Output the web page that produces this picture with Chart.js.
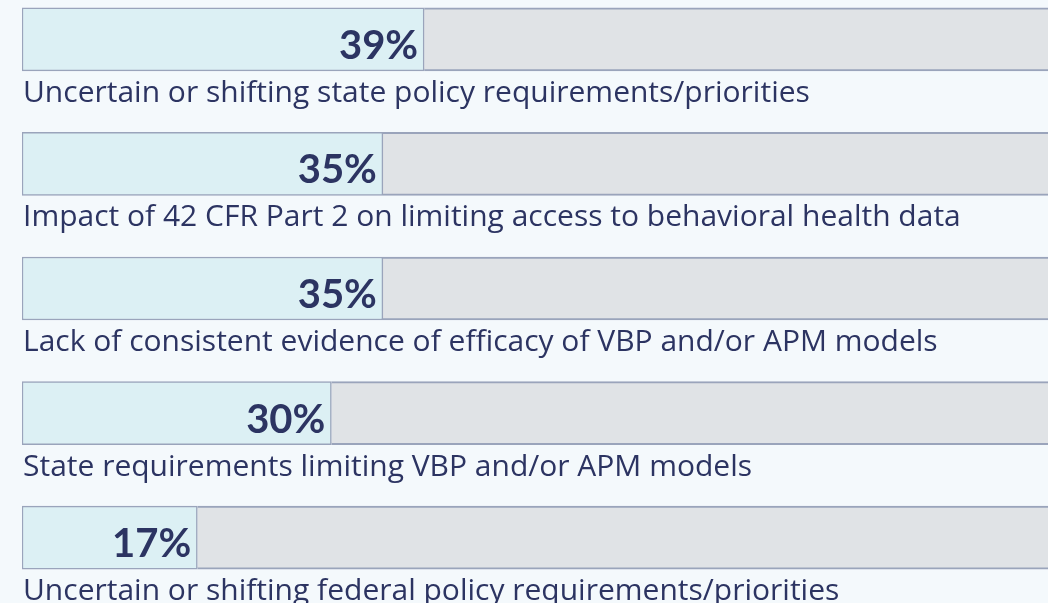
<!DOCTYPE html>
<html>
<head>
<meta charset="utf-8">
<script src="https://cdn.jsdelivr.net/npm/chart.js@4/dist/chart.umd.min.js"></script>
<style>
  html, body { margin: 0; padding: 0; width: 1048px; height: 603px; overflow: hidden; background: #f4f9fc; }
  #wrap { position: absolute; left: 0; top: -30px; width: 1048px; height: 640px; }
</style>
</head>
<body>
<div id="wrap"><canvas id="chart"></canvas></div>
<script>
// ========== DATA ==========
const categories = [
  'Uncertain or shifting state policy requirements/priorities',
  'Impact of 42 CFR Part 2 on limiting access to behavioral health data',
  'Lack of consistent evidence of efficacy of VBP and/or APM models',
  'State requirements limiting VBP and/or APM models',
  'Uncertain or shifting federal policy requirements/priorities'
];
const values = [39, 35, 35, 30, 17];
const rest = values.map(v => 100 - v);

const NAVY = '#2c3462';
const EDGE = '#9aa4bb';

// ========== LABELS PLUGIN ==========
const barText = {
  id: 'barText',
  afterDatasetsDraw(chart) {
    const ctx = chart.ctx;
    const meta = chart.getDatasetMeta(0);
    ctx.save();
    ctx.fillStyle = NAVY;
    meta.data.forEach((bar, i) => {
      const bottom = bar.y + bar.height / 2;
      // value inside the fill
      ctx.font = 'bold 40px Lato';
      ctx.textAlign = 'right';
      ctx.textBaseline = 'alphabetic';
      ctx.fillText(values[i] + '%', bar.x - 6, bar.y + 19.5);
      // category under the bar
      ctx.font = '30px "Open Sans"';
      ctx.textAlign = 'left';
      ctx.fillText(categories[i], chart.chartArea.left + 1, bottom + 31);
    });
    ctx.restore();
  }
};

new Chart(document.getElementById('chart'), {
  type: 'bar',
  data: {
    labels: categories,
    datasets: [
      {
        data: values,
        backgroundColor: '#dcf0f4',
        borderColor: EDGE,
        borderWidth: 1.5,
        borderSkipped: false,
        barThickness: 63
      },
      {
        data: rest,
        backgroundColor: '#e0e3e6',
        borderColor: EDGE,
        borderWidth: { top: 2, bottom: 2, left: 0, right: 0 },
        borderSkipped: 'start',
        barThickness: 63
      }
    ]
  },
  options: {
    indexAxis: 'y',
    responsive: true,
    maintainAspectRatio: false,
    animation: false,
    layout: { padding: { top: 7, bottom: 10, left: 22, right: 0 } },
    plugins: { legend: { display: false }, tooltip: { enabled: false } },
    scales: {
      x: { display: false, stacked: true, min: 0, max: 99.5 },
      y: { display: false, stacked: true }
    }
  },
  plugins: [barText]
});
</script>
</body>
</html>
